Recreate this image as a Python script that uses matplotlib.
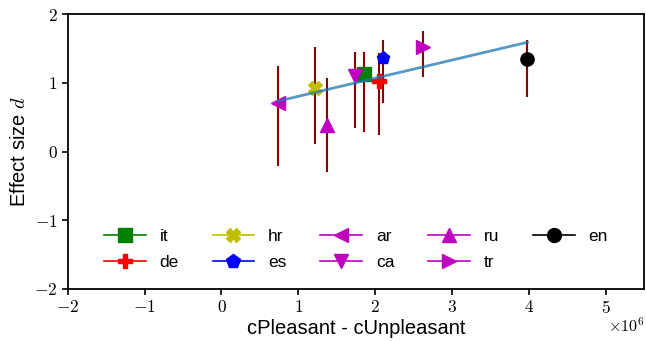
import numpy as np
import matplotlib
matplotlib.use("Agg")
import matplotlib.pyplot as plt
from matplotlib.ticker import FuncFormatter

plt.rcParams['mathtext.fontset'] = 'cm'
plt.rcParams['font.family'] = ['Liberation Sans', 'DejaVu Sans']

langs = ['it', 'de', 'hr', 'es', 'ar', 'ca', 'ru', 'tr', 'en']
x_diff = np.array([1.854, 2.05, 1.223, 2.099, 0.74, 1.737, 1.371, 2.621, 3.982]) * 1e6
eff = np.array([1.126, 1.029, 0.932, 1.367, 0.706, 1.101, 0.387, 1.526, 1.352])
ci_lo = np.array([0.286, 0.246, 0.116, 0.706, -0.203, 0.343, -0.29, 1.087, 0.793])
ci_hi = np.array([1.445, 1.43, 1.517, 1.623, 1.246, 1.454, 1.077, 1.754, 1.623])
markers = ['s', 'P', 'X', 'p', '<', 'v', '^', '>', 'o']
colors = ['g', 'r', 'y', 'b', 'm', 'm', 'm', 'm', 'k']

fig = plt.figure(figsize=(6.46, 3.41), dpi=100)
ax = fig.add_axes([0.105, 0.1525, 0.892, 0.806])

for i, lang in enumerate(langs):
    ax.vlines(x_diff[i], ci_lo[i], ci_hi[i], color='darkred', lw=1.5, zorder=1)
for i, lang in enumerate(langs):
    ax.plot(x_diff[i], eff[i], marker=markers[i], color=colors[i], ms=9.5,
            lw=1.2, ls='-', label=lang, zorder=2)

slope, intercept = np.polyfit(x_diff, eff, 1)
xs = np.array([x_diff.min(), x_diff.max()])
ax.plot(xs, slope * xs + intercept, color='#1f77b4', lw=2, alpha=0.75, zorder=3)

ax.set_xlim(-2e6, 5.5e6)
ax.set_ylim(-2, 2)
ax.set_xticks(np.arange(-2, 6) * 1e6)
ax.set_yticks([-2, -1, 0, 1, 2])
def fmt(v, pos):
    n = int(round(v))
    return r'$%d$' % n
ax.xaxis.set_major_formatter(FuncFormatter(lambda v, p: fmt(v / 1e6, p)))
ax.yaxis.set_major_formatter(FuncFormatter(fmt))
ax.tick_params(direction='out', length=4, width=1.2, labelsize=12.5)
for s in ax.spines.values():
    s.set_linewidth(1.3)
ax.text(1.0, -0.1, r'$\times10^{6}$', transform=ax.transAxes, ha='right', va='top', fontsize=11.5)

ax.set_xlabel('cPleasant - cUnpleasant', fontsize=14.5, labelpad=2)
ax.set_ylabel('Effect size $d$', fontsize=14.5)

ax.legend(ncol=5, loc='lower center', bbox_to_anchor=(0.5, 0.025), frameon=False,
          fontsize=12.5, handlelength=2.4, handletextpad=0.8, columnspacing=1.95,
          labelspacing=0.62, markerscale=1.05, borderaxespad=0.3)

fig.savefig('out.png', dpi=100)
